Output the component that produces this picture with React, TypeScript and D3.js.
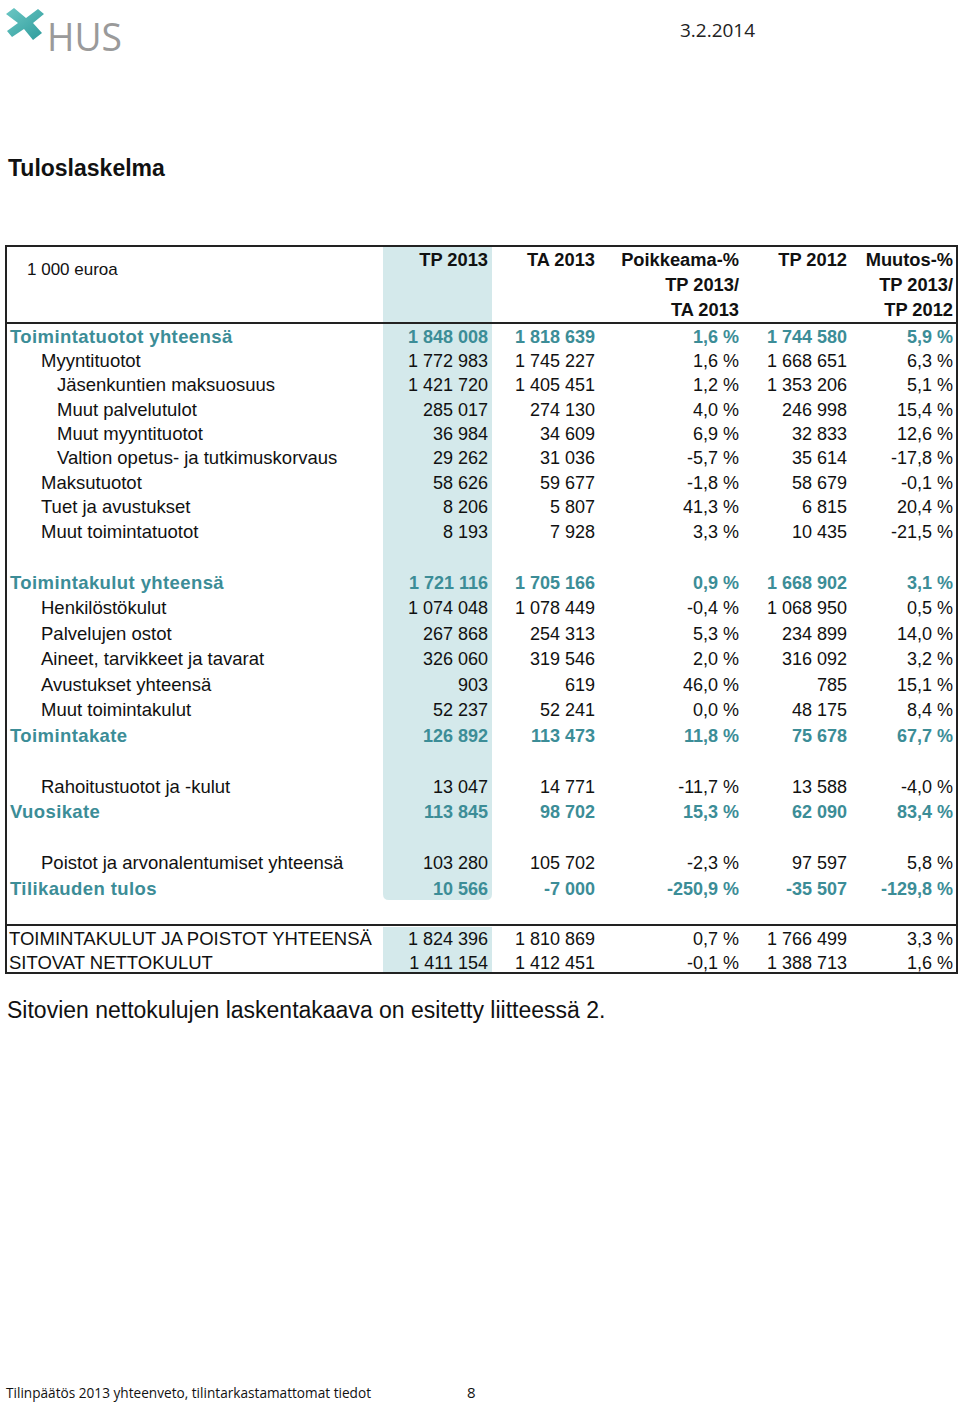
import React from "react";
import * as d3 from "d3";

const labels = ["Toimintatuotot yhteensä", "Myyntituotot", "Jäsenkuntien maksuosuus", "Muut palvelutulot", "Muut myyntituotot", "Valtion opetus- ja tutkimuskorvaus", "Maksutuotot", "Tuet ja avustukset", "Muut toimintatuotot", "", "Toimintakulut yhteensä", "Henkilöstökulut", "Palvelujen ostot", "Aineet, tarvikkeet ja tavarat", "Avustukset yhteensä", "Muut toimintakulut", "Toimintakate", "", "Rahoitustuotot ja -kulut", "Vuosikate", "", "Poistot ja arvonalentumiset yhteensä", "Tilikauden tulos"];
const levels = [0, 1, 2, 2, 2, 2, 1, 1, 1, -1, 0, 1, 1, 1, 1, 1, 0, -1, 1, 0, -1, 1, 0];
const tp2013 = [1848008, 1772983, 1421720, 285017, 36984, 29262, 58626, 8206, 8193, null, 1721116, 1074048, 267868, 326060, 903, 52237, 126892, null, 13047, 113845, null, 103280, 10566];
const ta2013 = [1818639, 1745227, 1405451, 274130, 34609, 31036, 59677, 5807, 7928, null, 1705166, 1078449, 254313, 319546, 619, 52241, 113473, null, 14771, 98702, null, 105702, -7000];
const poikkeama = [1.6, 1.6, 1.2, 4.0, 6.9, -5.7, -1.8, 41.3, 3.3, null, 0.9, -0.4, 5.3, 2.0, 46.0, 0.0, 11.8, null, -11.7, 15.3, null, -2.3, -250.9];
const tp2012 = [1744580, 1668651, 1353206, 246998, 32833, 35614, 58679, 6815, 10435, null, 1668902, 1068950, 234899, 316092, 785, 48175, 75678, null, 13588, 62090, null, 97597, -35507];
const muutos = [5.9, 6.3, 5.1, 15.4, 12.6, -17.8, -0.1, 20.4, -21.5, null, 3.1, 0.5, 14.0, 3.2, 15.1, 8.4, 67.7, null, -4.0, 83.4, null, 5.8, -129.8];

const sumLabels = ["TOIMINTAKULUT JA POISTOT YHTEENSÄ", "SITOVAT NETTOKULUT"];
const sumTp2013 = [1824396, 1411154];
const sumTa2013 = [1810869, 1412451];
const sumPoikkeama = [0.7, -0.1];
const sumTp2012 = [1766499, 1388713];
const sumMuutos = [3.3, 1.6];

const headerLines = [
  ["TP 2013", "TA 2013", "Poikkeama-%", "TP 2012", "Muutos-%"],
  ["", "", "TP 2013/", "", "TP 2013/"],
  ["", "", "TA 2013", "", "TP 2012"],
];

const TEAL = "#3c8d97";
const SHADE = "#d4e9eb";
const FONT = "'Liberation Sans', Arial, sans-serif";

const locale = d3.formatLocale({ decimal: ",", thousands: " ", grouping: [3], currency: ["", ""], minus: "-" });
const fmtInt = locale.format(",d");
const fmtPct = (v: number) => locale.format(".1f")(v) + " %";

const colRight = [488, 595, 739, 847, 953];
const levelX: Record<number, number> = { 0: 10, 1: 41, 2: 57 };

export default function App() {
  const y = d3.scaleLinear().domain([0, 8, 10, 22]).range([336, 531, 582, 888]);
  const ySum = d3.scaleLinear().domain([0, 1]).range([938, 962]);
  const base = 6.5;

  const rowCells = (i: number, a: any[], b: any[], c: any[], d: any[], e: any[]) => [
    a[i] == null ? "" : fmtInt(a[i]),
    b[i] == null ? "" : fmtInt(b[i]),
    c[i] == null ? "" : fmtPct(c[i]),
    d[i] == null ? "" : fmtInt(d[i]),
    e[i] == null ? "" : fmtPct(e[i]),
  ];

  return (
    <svg width={960} height={1405} style={{ position: "absolute", left: 0, top: 0, background: "#fff" }} fontFamily={FONT}>
      <defs>
        <linearGradient id="lg" x1="0" y1="0" x2="1" y2="1">
          <stop offset="0" stopColor="#6cc7c4" />
          <stop offset="1" stopColor="#2e9c9c" />
        </linearGradient>
      </defs>
      {/* logo */}
      <g>
        <path d="M6,14 L14,8 L26,18 L38,9 L44,14 L33,23 L42,33 L33,40 L24,29 L12,37 L7,31 L18,23 Z" fill="url(#lg)" />
        <text x={47} y={51} fontSize={38} fill="#9a9a9a" fontFamily="'Open Sans', sans-serif" textLength={75} lengthAdjust="spacingAndGlyphs">HUS</text>
      </g>
      <text x={680} y={37} fontSize={19} fill="#222" fontFamily="'Open Sans', sans-serif" textLength={75} lengthAdjust="spacingAndGlyphs">3.2.2014</text>
      <text x={8} y={176} fontSize={23} fontWeight="bold" fill="#111">Tuloslaskelma</text>

      {/* shaded column */}
      <path d={`M383,247 H492 V894 Q492,900 486,900 H389 Q383,900 383,894 Z`} fill={SHADE} />
      <rect x={383} y={927} width={109} height={45} fill={SHADE} />

      {/* borders */}
      <rect x={6} y={246} width={951} height={727} fill="none" stroke="#222" strokeWidth={2} />
      <line x1={6} x2={957} y1={323} y2={323} stroke="#222" strokeWidth={2} />
      <line x1={6} x2={957} y1={925} y2={925} stroke="#222" strokeWidth={2} />

      {/* header */}
      <text x={27} y={275} fontSize={17} fill="#111">1 000 euroa</text>
      {headerLines.map((line, li) =>
        line.map((t, ci) => (
          <text key={`h${li}-${ci}`} x={colRight[ci]} y={259 + li * 25 + base} textAnchor="end" fontSize={18.3} fontWeight="bold" fill="#111">{t}</text>
        ))
      )}

      {/* body rows */}
      {labels.map((lab, i) => {
        if (levels[i] < 0) return null;
        const total = levels[i] === 0;
        const fill = total ? TEAL : "#111";
        const weight = total ? "bold" : "normal";
        const cells = rowCells(i, tp2013, ta2013, poikkeama, tp2012, muutos);
        return (
          <g key={`r${i}`} fill={fill} fontWeight={weight} fontSize={18}>
            <text x={levelX[levels[i]]} y={y(i) + base} fontSize={18.5} letterSpacing={total ? 0.4 : 0}>{lab}</text>
            {cells.map((c, ci) => (
              <text key={ci} x={colRight[ci]} y={y(i) + base} textAnchor="end">{c}</text>
            ))}
          </g>
        );
      })}

      {/* summary rows */}
      {sumLabels.map((lab, i) => {
        const cells = rowCells(i, sumTp2013, sumTa2013, sumPoikkeama, sumTp2012, sumMuutos);
        return (
          <g key={`s${i}`} fill="#111" fontSize={18}>
            <text x={9} y={ySum(i) + base} fontSize={18.5}>{lab}</text>
            {cells.map((c, ci) => (
              <text key={ci} x={colRight[ci]} y={ySum(i) + base} textAnchor="end">{c}</text>
            ))}
          </g>
        );
      })}

      <text x={7} y={1018} fontSize={23} fill="#111">Sitovien nettokulujen laskentakaava on esitetty liitteessä 2.</text>

      <text x={6} y={1398} fontSize={15} fill="#111" fontFamily="'Open Sans', sans-serif" textLength={365} lengthAdjust="spacingAndGlyphs">Tilinpäätös 2013 yhteenveto, tilintarkastamattomat tiedot</text>
      <text x={467} y={1398} fontSize={15} fill="#111" fontFamily="'Open Sans', sans-serif">8</text>
    </svg>
  );
}
